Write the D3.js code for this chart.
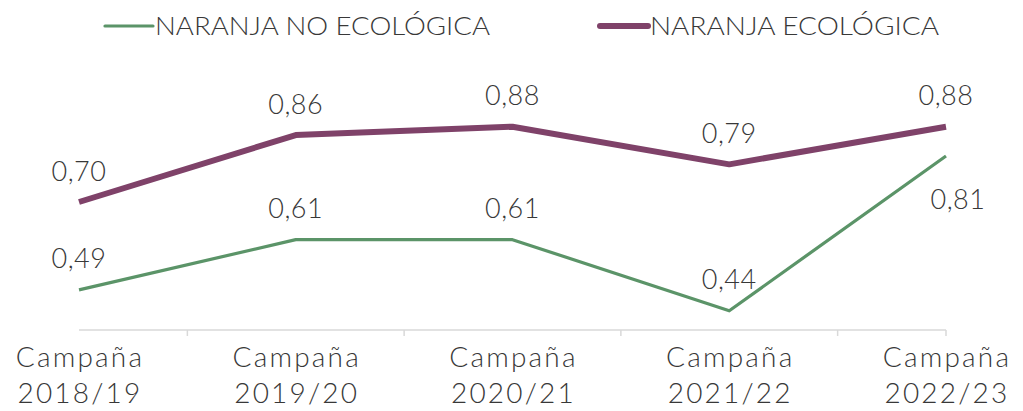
<!DOCTYPE html>
<html>
<head>
<meta charset="utf-8">
<script src="https://cdn.jsdelivr.net/npm/d3@7"></script>
<style>
  body { margin: 0; background: #fff; }
  svg text { font-family: Lato, "DejaVu Sans", sans-serif; fill: #383838; }
</style>
</head>
<body>
<svg id="chart" width="1023" height="411"></svg>
<script>
// Data
const campaigns = ["2018/19", "2019/20", "2020/21", "2021/22", "2022/23"];
const noEcologica = [0.49, 0.61, 0.61, 0.44, 0.81];
const ecologica = [0.70, 0.86, 0.88, 0.79, 0.88];
const seriesNames = ["NARANJA NO ECOLÓGICA", "NARANJA ECOLÓGICA"];

const width = 1023;
const height = 411;

const svg = d3.select("#chart");

const x = d3.scalePoint().domain(campaigns).range([79, 946]);
const y = d3.scaleLinear().domain([0.4, 1.0]).range([327.5, 76.5]);

const fmt = (v) => d3.format(".2f")(v).replace(".", ",");

const series = [
  { name: seriesNames[0], values: noEcologica, color: "#5b9468", width: 3.2 },
  { name: seriesNames[1], values: ecologica, color: "#7f4269", width: 6 },
];

// x axis line + ticks between categories
const axisY = 330;
const step = x.step();
svg.append("line")
  .attr("x1", x(campaigns[0])).attr("x2", x(campaigns[campaigns.length - 1]))
  .attr("y1", axisY).attr("y2", axisY)
  .attr("stroke", "#d9d9d9").attr("stroke-width", 1.5);

const tickXs = campaigns.slice(0, -1).map((c) => x(c) + step / 2);
tickXs.push(x(campaigns[campaigns.length - 1]));
svg.selectAll(".tick")
  .data(tickXs)
  .enter()
  .append("line")
  .attr("class", "tick")
  .attr("x1", (d) => d).attr("x2", (d) => d)
  .attr("y1", axisY).attr("y2", axisY + 6)
  .attr("stroke", "#d9d9d9").attr("stroke-width", 1.5);

// category labels
const cat = svg.selectAll(".cat")
  .data(campaigns)
  .enter()
  .append("text")
  .attr("class", "cat")
  .attr("text-anchor", "middle")
  .attr("font-size", 28)
  .attr("font-weight", 300)
  .attr("letter-spacing", 2.2);
cat.append("tspan").attr("x", (d) => x(d) + 1).attr("y", 367).text("Campaña");
cat.append("tspan").attr("x", (d) => x(d) + 1).attr("y", 403).text((d) => d);

// lines
const line = d3.line()
  .x((d, i) => x(campaigns[i]))
  .y((d) => y(d));

svg.selectAll(".series")
  .data(series)
  .enter()
  .append("path")
  .attr("class", "series")
  .attr("fill", "none")
  .attr("stroke", (d) => d.color)
  .attr("stroke-width", (d) => d.width)
  .attr("stroke-linejoin", "round")
  .attr("d", (d) => line(d.values));

// data labels: green label drops below when it would crowd the purple line
series.forEach((s, si) => {
  svg.selectAll(".lbl" + si)
    .data(s.values)
    .enter()
    .append("text")
    .attr("class", "lbl" + si)
    .attr("text-anchor", "middle")
    .attr("font-size", 27)
    .attr("font-weight", 300)
    .attr("letter-spacing", 0.5)
    .attr("x", (d, i) => {
      const below = si === 0 && ecologica[i] - d < 0.1;
      return x(campaigns[i]) + (below ? 12 : 0);
    })
    .attr("y", (d, i) => {
      const below = si === 0 && ecologica[i] - d < 0.1;
      return below ? y(d) + 53 : y(d) - 21.5;
    })
    .text((d) => fmt(d));
});

// legend
const legendItems = [
  { s: series[0], x: 105, textW: 335 },
  { s: series[1], x: 600, textW: 289 },
];
const lg = svg.selectAll(".legend")
  .data(legendItems)
  .enter()
  .append("g")
  .attr("class", "legend")
  .attr("transform", (d) => `translate(${d.x},26)`);
lg.append("line")
  .attr("x1", 0).attr("x2", 48)
  .attr("stroke", (d) => d.s.color)
  .attr("stroke-width", (d) => d.s.width)
  .attr("stroke-linecap", "round");
lg.append("text")
  .attr("x", 50)
  .attr("y", 9)
  .attr("font-size", 25)
  .attr("font-weight", 300)
  .attr("textLength", (d) => d.textW)
  .attr("lengthAdjust", "spacingAndGlyphs")
  .text((d) => d.s.name);
</script>
</body>
</html>
